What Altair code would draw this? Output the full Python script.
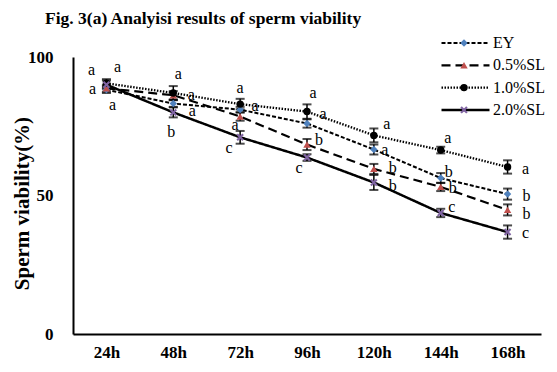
import altair as alt
import pandas as pd

times = ["24h", "48h", "72h", "96h", "120h", "144h", "168h"]
series_names = ["EY", "0.5%SL", "1.0%SL", "2.0%SL"]

ey_vals = [88.2, 83.2, 81.0, 76.0, 66.6, 56.3, 50.5]
sl05_vals = [88.7, 86.2, 78.5, 68.4, 59.6, 53.1, 44.8]
sl10_vals = [90.5, 87.0, 83.0, 80.3, 71.7, 66.4, 60.3]
sl20_vals = [90.0, 80.0, 71.0, 63.7, 54.7, 43.7, 36.8]

ey_err = [1.2, 1.2, 1.0, 1.5, 1.8, 1.8, 2.0]
sl05_err = [1.2, 1.5, 1.5, 2.0, 1.8, 1.5, 2.0]
sl10_err = [1.5, 2.5, 1.9, 2.6, 2.5, 1.2, 2.4]
sl20_err = [1.5, 1.8, 2.3, 1.2, 2.7, 1.5, 2.4]

ey_letters = ["a", "a", "a", "a", "a", "b", "b"]
sl05_letters = ["a", "a", "a", "b", "b", "b", "b"]
sl10_letters = ["a", "a", "a", "a", "a", "a", "a"]
sl20_letters = ["a", "b", "c", "c", "b", "c", "c"]

# label placement (pixel offsets from each point) - style only
ey_off = [(-15, -20), (19, 7), (15, -4), (16, -9), (11, 0), (8, -6), (19, 2)]
sl05_off = [(-14, 1), (18, 0), (-5, 8), (12, -5), (19, -1), (12, 1), (19, 4)]
sl10_off = [(11, -16), (5, -19), (0, -16), (6, -19), (13, -11), (7, -12), (18, 2)]
sl20_off = [(6, 20), (-2, 20), (-11, 11), (-8, 10), (19, 4), (11, -6), (18, 1)]

PLOT_W, PLOT_H = 468, 277
PX_PER_UNIT = PLOT_H / 100.0

marker_keys = ["m_" + s for s in series_names]

rows = []
for s, mk, vals, errs, lets, offs in zip(
    series_names, marker_keys,
    [ey_vals, sl05_vals, sl10_vals, sl20_vals],
    [ey_err, sl05_err, sl10_err, sl20_err],
    [ey_letters, sl05_letters, sl10_letters, sl20_letters],
    [ey_off, sl05_off, sl10_off, sl20_off],
):
    for t, v, e, l, (dx, dy) in zip(times, vals, errs, lets, offs):
        rows.append(dict(time=t, series=s, series_m=mk, value=v, lo=v - e, hi=v + e,
                         letter=l, dx=dx, label_y=v - dy / PX_PER_UNIT))
df = pd.DataFrame(rows)

SERIF = "Liberation Serif"

x_enc = alt.X("time:N", sort=times, scale=alt.Scale(type="point", padding=0.5),
              axis=alt.Axis(title=None, labelAngle=0, labelPadding=10, ticks=False,
                            labelFont=SERIF, labelFontSize=17, labelFontWeight="bold",
                            labelColor="black", domainColor="black", domainWidth=2))
y_enc = alt.Y("value:Q", scale=alt.Scale(domain=[0, 100], nice=False),
              axis=alt.Axis(values=[0, 50, 100], ticks=False, grid=False,
                            labelFont=SERIF, labelFontSize=17, labelFontWeight="bold",
                            labelColor="black", labelPadding=20,
                            domainColor="black", domainWidth=2,
                            title="Sperm viability(%)", titleFont=SERIF, titleFontSize=21,
                            titleFontWeight="bold", titleColor="black",
                            titleX=-51, titleY=146, titleAngle=-90,
                            titleAlign="center", titleBaseline="middle"))

line_legend = alt.Legend(orient="none", legendX=367, legendY=-23, title=None,
                         symbolType="stroke", symbolSize=2304, symbolStrokeColor="black",
                         clipHeight=18, rowPadding=4.3, padding=0, labelOffset=2,
                         labelFont=SERIF, labelFontSize=16, labelColor="black")
shape_legend = alt.Legend(orient="none", legendX=383, legendY=-23, title=None,
                          symbolSize=55, symbolStrokeWidth=0,
                          clipHeight=18, rowPadding=4.3, padding=0,
                          labelFont=SERIF, labelFontSize=16, labelExpr="''")

lines = alt.Chart(df).mark_line(color="black").encode(
    x=x_enc, y=y_enc,
    strokeDash=alt.StrokeDash("series:N", sort=series_names,
                              scale=alt.Scale(domain=series_names,
                                              range=[[4, 2], [9, 5], [1.5, 1.5], [1, 0]]),
                              legend=line_legend),
    strokeWidth=alt.StrokeWidth("series:N", sort=series_names,
                                scale=alt.Scale(domain=series_names, range=[2, 2.5, 1.5, 2]),
                                legend=line_legend),
)

bars = alt.Chart(df).mark_rule(color="black", strokeWidth=1.5).encode(
    x=x_enc, y=alt.Y("lo:Q"), y2="hi:Q")
caps_hi = alt.Chart(df).mark_tick(color="black", thickness=2, size=9).encode(
    x=x_enc, y=alt.Y("hi:Q"))
caps_lo = alt.Chart(df).mark_tick(color="black", thickness=2, size=9).encode(
    x=x_enc, y=alt.Y("lo:Q"))

xpath = "M-1,-0.6L-0.6,-1L0,-0.4L0.6,-1L1,-0.6L0.4,0L1,0.6L0.6,1L0,0.4L-0.6,1L-1,0.6L-0.4,0Z"
points = alt.Chart(df).mark_point(filled=True, size=55, opacity=1).encode(
    x=x_enc, y=y_enc,
    shape=alt.Shape("series_m:N", sort=marker_keys,
                    scale=alt.Scale(domain=marker_keys,
                                    range=["diamond", "triangle-up", "circle", xpath]),
                    legend=shape_legend),
    fill=alt.Fill("series_m:N", sort=marker_keys,
                  scale=alt.Scale(domain=marker_keys,
                                  range=["#4f81bd", "#c0504d", "#000000", "#8064a2"]),
                  legend=shape_legend),
)

labels = alt.Chart(df).mark_text(font=SERIF, fontSize=16, color="black",
                                 baseline="middle", align="center").encode(
    x=x_enc, y=alt.Y("label_y:Q"), text="letter:N",
    xOffset=alt.XOffset("dx:Q", scale=None),
)

chart = alt.layer(lines, bars, caps_hi, caps_lo, points, labels).properties(
    width=PLOT_W, height=PLOT_H,
    autosize=alt.AutoSizeParams(type="none"),
    padding={"left": 65, "top": 49, "right": 8, "bottom": 28},
    title=alt.Title("Fig. 3(a) Analyisi results of sperm viability", font=SERIF,
                    fontSize=17.5, fontWeight="bold", color="black",
                    anchor="start", frame="group", dx=-28, offset=7),
).configure_view(stroke=None)

chart.save("out.html", embed_options={"renderer": "svg", "actions": False})
